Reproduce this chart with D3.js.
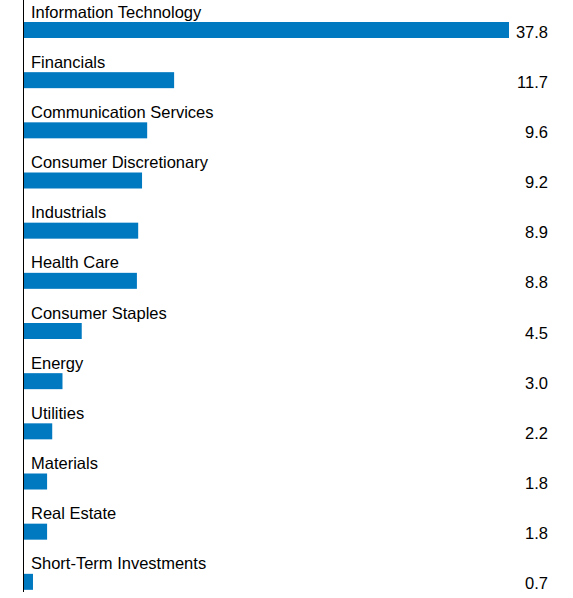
<!DOCTYPE html>
<html><head><meta charset="utf-8">
<script src="https://cdn.jsdelivr.net/npm/d3@7"></script>
<style>body{margin:0;background:#fff}</style></head>
<body><svg id="c" width="573" height="598"></svg>
<script>
const categories=["Information Technology","Financials","Communication Services","Consumer Discretionary","Industrials","Health Care","Consumer Staples","Energy","Utilities","Materials","Real Estate","Short-Term Investments"];
const values=[37.8,11.7,9.6,9.2,8.9,8.8,4.5,3.0,2.2,1.8,1.8,0.7];
const svg=d3.select("#c");
const x=d3.scaleLinear().domain([0,37.8]).range([24,509]);
const y=d3.scaleBand().domain(categories).range([0,602]);
svg.append("line").attr("x1",23.5).attr("x2",23.5).attr("y1",0).attr("y2",592).attr("stroke","#000").attr("stroke-width",1);
const g=svg.selectAll("g.r").data(categories).join("g").attr("transform",d=>`translate(0,${y(d)})`);
g.append("text").attr("x",31).attr("y",17.5).text(d=>d).attr("font-family","Liberation Sans, Arial").attr("font-size",16.5).attr("fill","#000");
g.append("rect").attr("x",x(0)).attr("y",22).attr("height",16).attr("width",(d,i)=>x(values[i])-x(0)).attr("fill","#0079c1");
g.append("text").attr("x",548).attr("y",37.5).attr("text-anchor","end").text((d,i)=>values[i].toFixed(1)).attr("font-family","Liberation Sans, Arial").attr("font-size",16.5).attr("fill","#000");
</script></body></html>
